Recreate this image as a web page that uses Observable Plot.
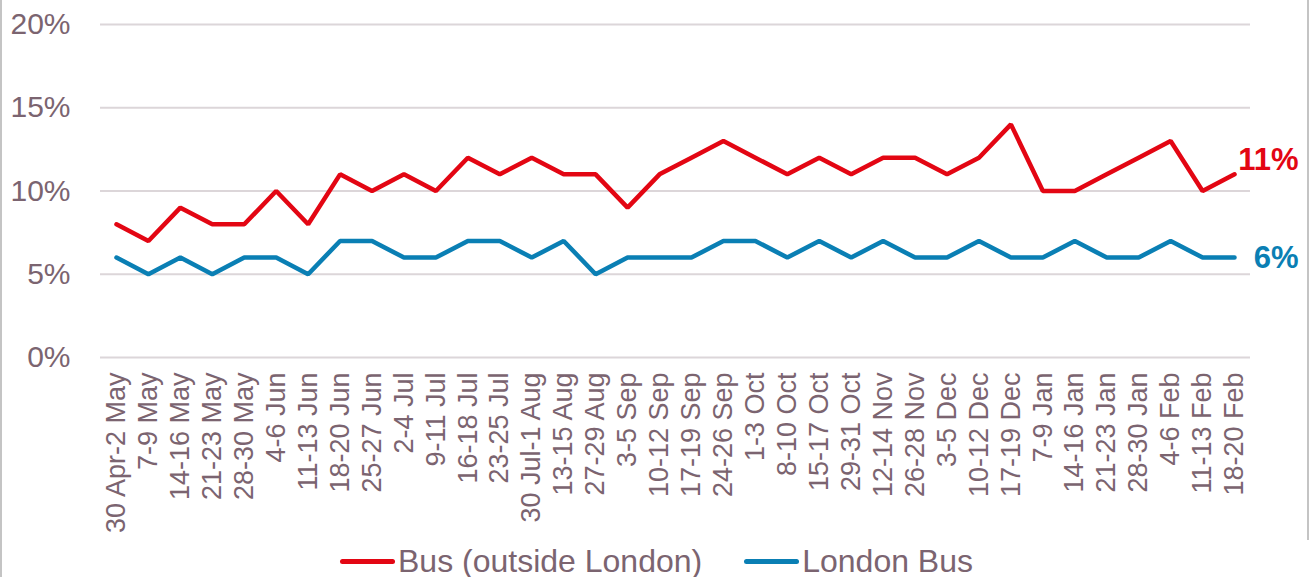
<!DOCTYPE html>
<html>
<head>
<meta charset="utf-8">
<script src="https://cdn.jsdelivr.net/npm/d3@7"></script>
<script src="https://cdn.jsdelivr.net/npm/@observablehq/plot@0.6"></script>
<style>
  html, body { margin: 0; padding: 0; background: #fff; }
  body { width: 1313px; height: 577px; overflow: hidden; position: relative; font-family: "Liberation Sans", Arial, sans-serif; }
  #frameL { position: absolute; left: 0; top: 0; width: 2px; height: 577px; background: #c4c4c4; }
  #frameR { position: absolute; left: 1307px; top: 0; width: 2px; height: 540px; background: #c4c4c4; }
  #chart { position: absolute; left: 0; top: 0; }
  #legend { position: absolute; left: 0; top: 543px; width: 1313px; height: 36px; display: flex; justify-content: center; align-items: center; color: #7b6470; font-size: 32px; }
  .item { display: flex; align-items: center; margin: 0 21px; }
  .swatch { width: 55px; height: 5px; border-radius: 3px; margin-right: 3px; }
</style>
</head>
<body>
<div id="chart"></div>
<div id="frameL"></div>
<div id="frameR"></div>
<div id="legend"></div>
<script>
const categories = ["30 Apr-2 May","7-9 May","14-16 May","21-23 May","28-30 May","4-6 Jun","11-13 Jun","18-20 Jun","25-27 Jun","2-4 Jul","9-11 Jul","16-18 Jul","23-25 Jul","30 Jul-1 Aug","13-15 Aug","27-29 Aug","3-5 Sep","10-12 Sep","17-19 Sep","24-26 Sep","1-3 Oct","8-10 Oct","15-17 Oct","29-31 Oct","12-14 Nov","26-28 Nov","3-5 Dec","10-12 Dec","17-19 Dec","7-9 Jan","14-16 Jan","21-23 Jan","28-30 Jan","4-6 Feb","11-13 Feb","18-20 Feb"];
const busOutsideLondon = [8,7,9,8,8,10,8,11,10,11,10,12,11,12,11,11,9,11,12,13,12,11,12,11,12,12,11,12,14,10,10,11,12,13,10,11];
const londonBus = [6,5,6,5,6,6,5,7,7,6,6,7,7,6,7,5,6,6,6,7,7,6,7,6,7,6,6,7,6,6,7,6,6,7,6,6];
const seriesNames = ["Bus (outside London)", "London Bus"];
const seriesColors = ["#e30613", "#0a7fb4"];
const yTicks = [0, 5, 10, 15, 20];

const rows = [];
categories.forEach((c, i) => {
  rows.push({cat: c, series: seriesNames[0], value: busOutsideLondon[i]});
  rows.push({cat: c, series: seriesNames[1], value: londonBus[i]});
});
const last = categories[categories.length - 1];
const endRed = [{cat: last, value: busOutsideLondon[busOutsideLondon.length - 1]}];
const endBlue = [{cat: last, value: londonBus[londonBus.length - 1]}];

const textColor = "#7b6470";

const chart = Plot.plot({
  width: 1313,
  height: 540,
  marginLeft: 100,
  marginRight: 63,
  marginTop: 24,
  marginBottom: 183,
  style: {fontFamily: "'Liberation Sans', Arial, sans-serif", background: "transparent", color: textColor, overflow: "visible"},
  x: {type: "point", domain: categories, padding: 0.5},
  y: {domain: [0, 20]},
  color: {domain: seriesNames, range: seriesColors},
  marks: [
    Plot.ruleY(yTicks, {stroke: "#dcd6d9", strokeWidth: 2}),
    Plot.axisY(yTicks, {tickSize: 0, tickPadding: 30, tickFormat: d => d + "%", fontSize: 30, fill: textColor, label: null}),
    Plot.axisX({tickSize: 0, tickPadding: 15, tickRotate: -90, fontSize: 27, fill: textColor, label: null}),
    Plot.line(rows, {x: "cat", y: "value", z: "series", stroke: "series", strokeWidth: 4.5, strokeLinecap: "round", strokeLinejoin: "miter"}),
    Plot.text(endRed, {x: "cat", y: "value", text: d => d.value + "%", fill: seriesColors[0], fontSize: 31, fontWeight: "bold", textAnchor: "end", dx: 64, dy: -14}),
    Plot.text(endBlue, {x: "cat", y: "value", text: d => d.value + "%", fill: seriesColors[1], fontSize: 31, fontWeight: "bold", textAnchor: "end", dx: 64, dy: 0})
  ]
});
document.getElementById("chart").appendChild(chart);

const legend = document.getElementById("legend");
seriesNames.forEach((name, i) => {
  const item = document.createElement("div");
  item.className = "item";
  const sw = document.createElement("div");
  sw.className = "swatch";
  sw.style.background = seriesColors[i];
  const t = document.createElement("span");
  t.textContent = name;
  item.appendChild(sw);
  item.appendChild(t);
  legend.appendChild(item);
});
</script>
</body>
</html>
